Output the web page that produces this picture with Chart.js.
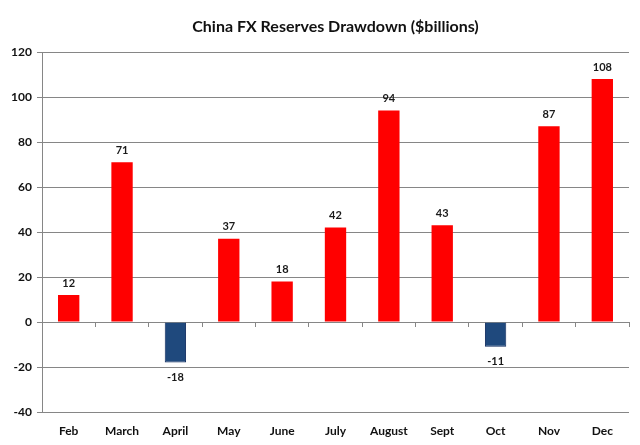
<!DOCTYPE html>
<html>
<head>
<meta charset="utf-8">
<script src="https://cdn.jsdelivr.net/npm/chart.js@4"></script>
<style>
html,body{margin:0;padding:0;background:#fff;}
#wrap{width:640px;height:445px;position:relative;}
</style>
</head>
<body>
<div id="wrap"><canvas id="c"></canvas></div>
<script>
const categories = ["Feb","March","April","May","June","July","August","Sept","Oct","Nov","Dec"];
const drawdown = [12, 71, -18, 37, 18, 42, 94, 43, -11, 87, 108];
const yTicks = [-40, -20, 0, 20, 40, 60, 80, 100, 120];
const titleText = "China FX Reserves Drawdown ($billions)";

const FONT = "Lato, 'Open Sans', sans-serif";
const GRID = "#868686";

const valueLabels = {
  id: 'valueLabels',
  afterDatasetsDraw(chart) {
    const ctx = chart.ctx;
    const meta = chart.getDatasetMeta(0);
    ctx.save();
    ctx.font = "bold 11px " + FONT;
    ctx.fillStyle = "#1a1a1a";
    ctx.textAlign = "center";
    ctx.textBaseline = "middle";
    meta.data.forEach((bar, i) => {
      const v = drawdown[i];
      const y = v >= 0 ? bar.y - 12 : bar.y + 15;
      ctx.fillText(String(v), bar.x, y);
    });
    ctx.restore();
  }
};

new Chart(document.getElementById('c'), {
  type: 'bar',
  data: {
    labels: categories,
    datasets: [{
      data: drawdown,
      backgroundColor: drawdown.map(v => v >= 0 ? '#FF0000' : '#1F497D'),
      borderColor: drawdown.map(v => v >= 0 ? '#FF0000' : '#0E2A5E'),
      borderWidth: drawdown.map(v => v >= 0 ? 0 : 1),
      barPercentage: 0.4,
      categoryPercentage: 1.0
    }]
  },
  options: {
    responsive: true,
    maintainAspectRatio: false,
    animation: false,
    layout: { padding: { left: 0, right: 11, top: 0, bottom: 0 } },
    plugins: {
      legend: { display: false },
      tooltip: { enabled: false },
      title: {
        display: true,
        fullSize: false,
        text: titleText,
        color: '#111',
        font: { family: FONT, size: 16, weight: 'bold', lineHeight: 1.2 },
        padding: { top: 17, bottom: 15.8 },
        align: 'center'
      }
    },
    scales: {
      x: {
        position: 'bottom',
        offset: true,
        grid: { display: false, drawOnChartArea: false, drawTicks: false },
        border: { display: false },
        ticks: {
          color: '#111',
          font: { family: FONT, size: 12, weight: 'bold' },
          padding: 12,
          maxRotation: 0,
          autoSkip: false
        },
        afterFit(scale) { scale.height = 33; }
      },
      x0: {
        type: 'category',
        labels: categories,
        position: { y: 0 },
        offset: true,
        grid: { offset: true, drawOnChartArea: false, drawTicks: true, tickLength: 4, color: GRID, lineWidth: 1 },
        border: { display: true, color: GRID, width: 1 },
        ticks: { display: false },
        afterFit(scale) { scale.height = 0; }
      },
      y: {
        min: -40,
        max: 120,
        afterBuildTicks(scale) { scale.ticks = yTicks.map(v => ({ value: v })); },
        grid: { color: GRID, lineWidth: 1, tickLength: 5, drawTicks: true },
        border: { display: true, color: GRID, width: 1 },
        ticks: {
          color: '#111',
          font: { family: FONT, size: 12, weight: 'bold' },
          padding: 5
        },
        afterFit(scale) { scale.width = 42; }
      }
    }
  },
  plugins: [valueLabels]
});
</script>
</body>
</html>
